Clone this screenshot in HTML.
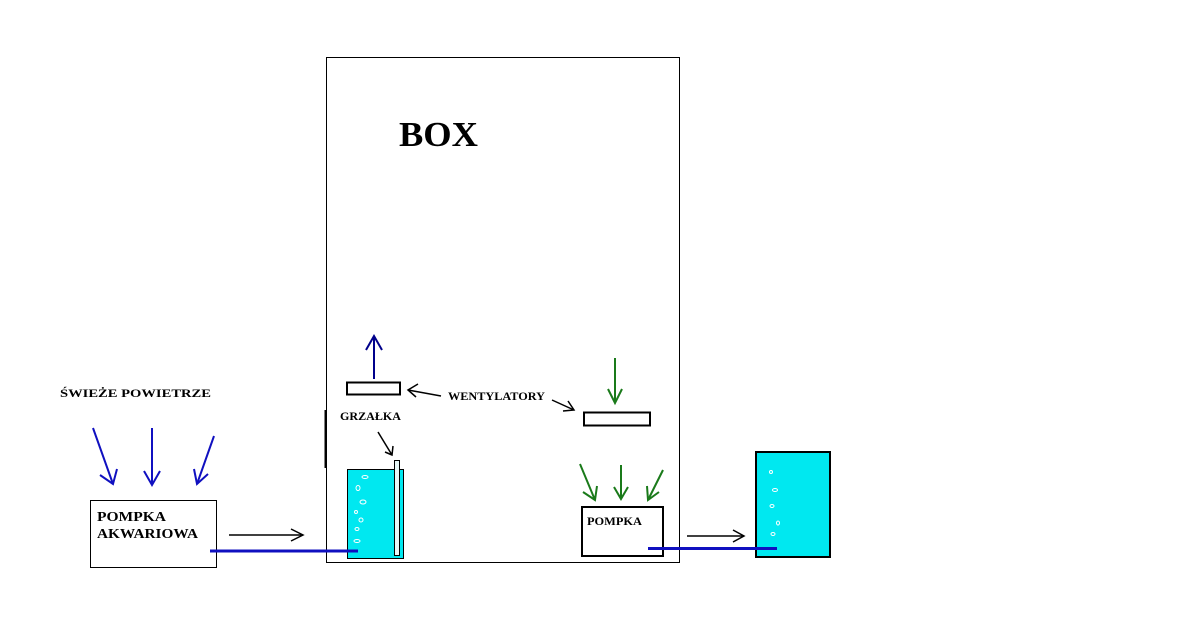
<!DOCTYPE html>
<html><head><meta charset="utf-8"><style>
html,body{margin:0;padding:0;background:#fff;}
svg{display:block;}
text{font-family:"Liberation Serif",serif;font-weight:bold;fill:#000;}
</style></head><body>
<svg width="1199" height="640" viewBox="0 0 1199 640" xmlns="http://www.w3.org/2000/svg">
<!-- box -->
<rect x="326.5" y="57.5" width="353" height="505" fill="none" stroke="#000" stroke-width="1"/>
<line x1="325.5" y1="410" x2="325.5" y2="468" stroke="#000" stroke-width="2"/>
<text x="399" y="146" font-size="35" textLength="79" lengthAdjust="spacingAndGlyphs">BOX</text>

<!-- fans -->
<rect x="347" y="382.5" width="53" height="12" fill="none" stroke="#000" stroke-width="2"/>
<rect x="584" y="412.5" width="66" height="13" fill="none" stroke="#000" stroke-width="2"/>
<g stroke="#00008b" stroke-width="2" fill="none">
<line x1="374" y1="379" x2="374" y2="336"/><polyline points="366,350 374,336 382,350"/>
</g>
<g stroke="#1a7a1a" stroke-width="2" fill="none">
<line x1="615" y1="358" x2="615" y2="402"/><polyline points="608,389 615,403 622,389"/>
<line x1="580" y1="464" x2="595" y2="500"/><polyline points="583,492 595,500 597,486"/>
<line x1="621" y1="465" x2="621" y2="499"/><polyline points="614,487 621,499 628,487"/>
<line x1="663" y1="470" x2="648" y2="500"/><polyline points="647,486 648,500 659,492"/>
</g>
<text x="448" y="400" font-size="12" textLength="97" lengthAdjust="spacingAndGlyphs">WENTYLATORY</text>
<g stroke="#000" stroke-width="1.5" fill="none">
<line x1="441" y1="396" x2="408" y2="390"/><polyline points="418,384 408,390 416,397"/>
<line x1="552" y1="400" x2="574" y2="410"/><polyline points="563,411 574,410 568,401"/>
<line x1="378" y1="432" x2="392" y2="455"/><polyline points="385,452 392,455 393,446"/>
</g>
<text x="340" y="420" font-size="12" textLength="61" lengthAdjust="spacingAndGlyphs">GRZAŁKA</text>

<!-- left tank -->
<rect x="347.5" y="469.5" width="56" height="89" fill="#00e8f0" stroke="#000" stroke-width="1"/>
<rect x="394.5" y="460.5" width="5" height="95" fill="#e8f8f8" stroke="#000" stroke-width="1"/>
<g fill="none" stroke="#fff" stroke-width="1">
<ellipse cx="365" cy="477" rx="3" ry="1.5"/><ellipse cx="358" cy="488" rx="2" ry="2.5"/>
<ellipse cx="363" cy="502" rx="3" ry="2"/><ellipse cx="356" cy="512" rx="1.5" ry="1.5"/>
<ellipse cx="361" cy="520" rx="2" ry="2"/><ellipse cx="357" cy="529" rx="2" ry="1.5"/>
<ellipse cx="357" cy="541" rx="3" ry="1.5"/>
</g>

<!-- right tank -->
<rect x="756" y="452" width="74" height="105" fill="#00e8f0" stroke="#000" stroke-width="2"/>
<g fill="none" stroke="#fff" stroke-width="1">
<ellipse cx="771" cy="472" rx="1.5" ry="1.5"/><ellipse cx="775" cy="490" rx="2.5" ry="1.5"/>
<ellipse cx="772" cy="506" rx="2" ry="1.5"/><ellipse cx="778" cy="523" rx="1.5" ry="2"/>
<ellipse cx="773" cy="534" rx="2" ry="1.5"/>
</g>

<!-- pumps -->
<rect x="90.5" y="500.5" width="126" height="67" fill="none" stroke="#000" stroke-width="1"/>
<text x="97" y="521" font-size="14" textLength="69" lengthAdjust="spacingAndGlyphs">POMPKA</text>
<text x="97" y="538" font-size="14" textLength="101" lengthAdjust="spacingAndGlyphs">AKWARIOWA</text>
<rect x="582" y="507" width="81" height="49" fill="none" stroke="#000" stroke-width="2"/>
<text x="587" y="525" font-size="12" textLength="55" lengthAdjust="spacingAndGlyphs">POMPKA</text>

<!-- blue pipes -->
<line x1="210" y1="551" x2="358" y2="551" stroke="#1010c0" stroke-width="3"/>
<line x1="648" y1="548.5" x2="777" y2="548.5" stroke="#1010c0" stroke-width="3"/>

<!-- black flow arrows -->
<g stroke="#000" stroke-width="1.5" fill="none">
<line x1="229" y1="535" x2="303" y2="535"/><polyline points="291,529 303,535 291,541"/>
<line x1="687" y1="536" x2="744" y2="536"/><polyline points="733,530 744,536 733,542"/>
</g>

<!-- fresh air -->
<text x="60" y="397" font-size="12" textLength="151" lengthAdjust="spacingAndGlyphs">ŚWIEŻE POWIETRZE</text>
<g stroke="#1010c0" stroke-width="2" fill="none">
<line x1="93" y1="428" x2="113" y2="484"/><polyline points="100,475 113,484 117,469"/>
<line x1="152" y1="428" x2="152" y2="485"/><polyline points="144,471 152,485 160,471"/>
<line x1="214" y1="436" x2="197" y2="484"/><polyline points="194,469 197,484 208,474"/>
</g>
</svg>
</body></html>
